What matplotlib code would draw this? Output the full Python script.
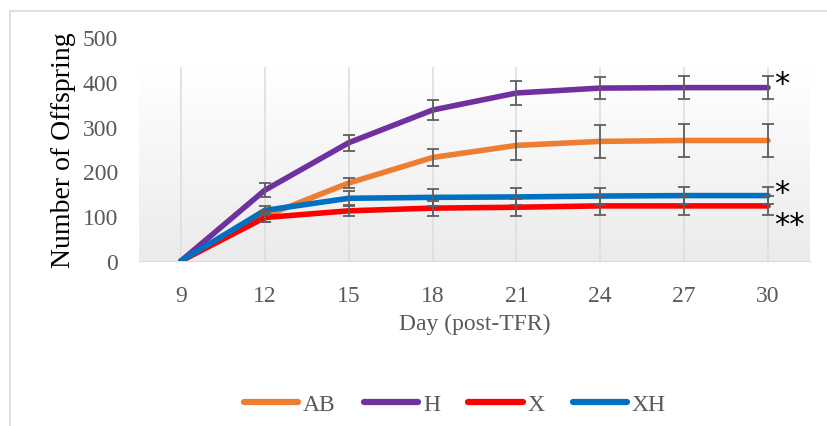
import numpy as np
import matplotlib.pyplot as plt
from matplotlib.patches import Rectangle
from matplotlib.colors import LinearSegmentedColormap

plt.rcParams['font.family'] = ['Liberation Serif', 'DejaVu Serif']

# data
days = ["9", "12", "15", "18", "21", "24", "27", "30"]
ab = [0, 100, 174, 231, 258, 267, 269, 269]
h = [0, 158, 264, 337, 375, 386, 387, 387]
x_ = [0, 97, 112, 118, 120, 123, 123, 123]
xh = [0, 113, 140, 142, 143, 145, 146, 146]

ab_err = [0, 12, 11, 18, 32, 36, 37, 37]
h_err = [0, 15, 18, 23, 26, 25, 26, 26]
x_err = [0, 10, 12, 17, 19, 21, 21, 21]
xh_err = [0, 10, 17, 19, 19, 19, 19, 19]

series = [("AB", ab, ab_err, "#ED7D31"),
          ("H", h, h_err, "#7030A0"),
          ("X", x_, x_err, "#FF0000"),
          ("XH", xh, xh_err, "#0070C0")]

fig = plt.figure(figsize=(8.28, 4.27), dpi=100)
fig.patches.append(Rectangle((10/828, -0.05), 1.0, 1 - 12/427 + 0.05,
                             transform=fig.transFigure, fill=False,
                             edgecolor="#d9d9d9", lw=1.2))
ax = fig.add_axes([139/828, 1 - 262/427, (810 - 139)/828, (262 - 38)/427])

pos = np.arange(len(days))

# gradient plot area
grad = np.linspace(1.0, 0.0, 256).reshape(-1, 1)
cmap = LinearSegmentedColormap.from_list("g", ["#ebebeb", "#ffffff"])
ax.imshow(grad, extent=(-0.5, len(days) - 0.5, 0, 430), aspect='auto',
          cmap=cmap, zorder=0, vmin=0, vmax=1)

for p in pos:
    ax.axvline(p, color="#dedede", lw=1.2, zorder=1, ymax=430/500)

for name, vals, err, col in series:
    ax.plot(pos, vals, color=col, lw=4, label=name, zorder=3,
            solid_capstyle='round')
for name, vals, err, col in series:
    ax.errorbar(pos[1:], vals[1:], yerr=err[1:], fmt='none', ecolor="#5f5f5f",
                elinewidth=1.3, capsize=4.5, capthick=1.3, zorder=4)

# significance marks
star = dict(fontsize=22, ha='left', va='baseline', family='DejaVu Sans',
            textcoords='offset points')
ax.annotate("*", xy=(pos[-1], h[-1]), xytext=(4.5, -3.5), **star)
ax.annotate("*", xy=(pos[-1], xh[-1]), xytext=(4.5, -4), **star)
ax.annotate("**", xy=(pos[-1], x_[-1]), xytext=(4.5, -19.5), **star)

ax.set_xlim(-0.5, len(days) - 0.5)
ax.set_ylim(0, 500)
ax.set_xticks(pos)
ax.set_xticklabels(days)
ax.set_yticks([0, 100, 200, 300, 400, 500])
ax.tick_params(axis='both', length=0, labelsize=17, colors="#595959")
ax.tick_params(axis='x', pad=17)
ax.tick_params(axis='y', pad=15)
for s in ["top", "right", "left"]:
    ax.spines[s].set_visible(False)
ax.spines["bottom"].set_color("#d9d9d9")
ax.set_facecolor("none")

ax.set_xlabel("Day (post-TFR)", fontsize=17, color="#595959", labelpad=5)
ax.set_ylabel("Number of Offspring", fontsize=20, color="black", labelpad=5)

leg = ax.legend(loc='center', bbox_to_anchor=(455/828, 1 - 405/427),
                bbox_transform=fig.transFigure, ncol=4, frameon=False,
                fontsize=17, handlelength=2.3, handletextpad=0.2,
                columnspacing=1.2)
for t in leg.get_texts():
    t.set_color("#595959")
for l in leg.get_lines():
    l.set_linewidth(4.5)

fig.savefig("out.png", dpi=100)
